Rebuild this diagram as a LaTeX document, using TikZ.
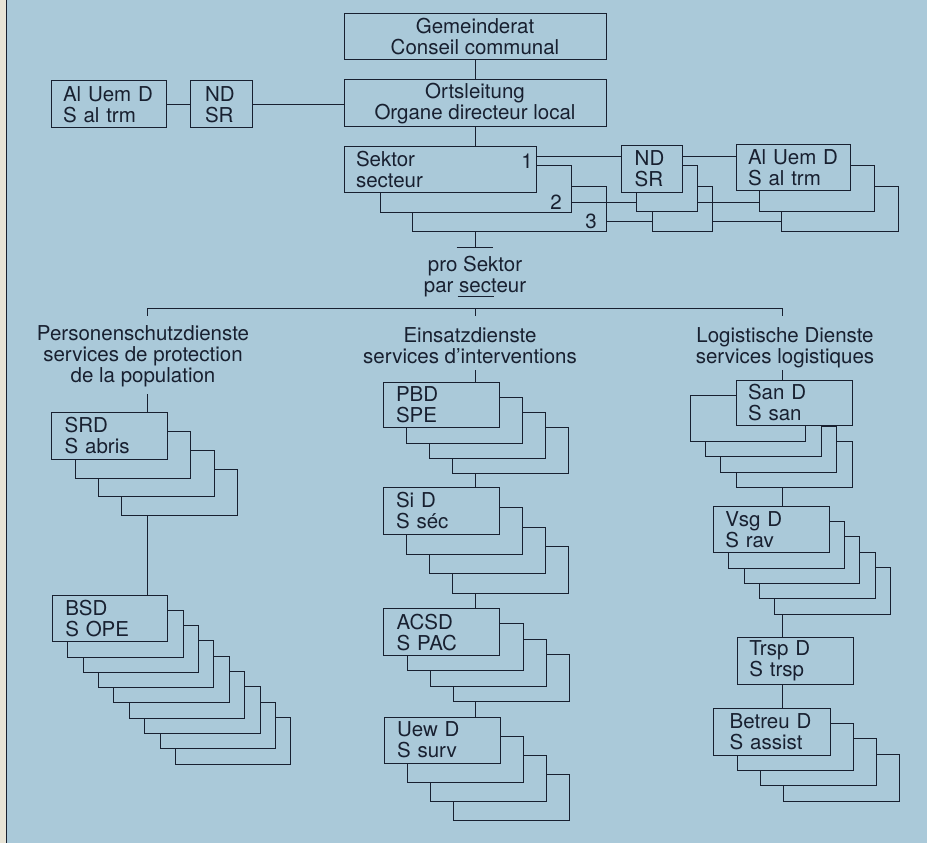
\documentclass[tikz,border=0pt]{standalone}
\usepackage{fontspec}
\setmainfont{TeX Gyre Heros}
\definecolor{bg}{RGB}{170,201,217}
\definecolor{ink}{RGB}{24,32,48}
\definecolor{strip}{RGB}{232,228,214}
\newcommand\tf{\fontsize{20.5}{21}\selectfont}
\newcommand\tbox[7]{%
  \pgfmathsetmacro\tbw{#4-2*#6}%
  \node[bx,txt,align=left,minimum width=#4pt,minimum height=#5pt,inner xsep=#6pt,text width=\tbw pt] (#1) at (#2,#3) {#7};}
\newcommand\ebox[5]{\node[bx,minimum width=#4pt,minimum height=#5pt] (#1) at (#2,#3) {};}
\newcommand\stk[8]{\foreach \k in {#8,...,1}{\ebox{#1-\k}{#2+\k*#6}{#3+\k*#7}{#4}{#5}}}
\begin{document}
\begin{tikzpicture}[x=1pt,y=-1pt,
  bx/.style={draw=ink,fill=bg,line width=1pt,anchor=north west,inner sep=0pt,outer sep=0pt},
  txt/.style={text=ink,font=\tf},
  con/.style={draw=ink,line width=1pt}]
\fill[bg] (0,0) rectangle (927,843);
\useasboundingbox (0,0) rectangle (927,843);
\fill[strip] (0,0) rectangle (6,843);
\draw[ink,line width=1.2pt] (6.8,0) -- (6.8,843);

% top
\node[bx,txt,align=center,minimum width=262pt,minimum height=46.7pt] (gr) at (344,13.3) {Gemeinderat\\Conseil communal};
\node[bx,txt,align=center,minimum width=262pt,minimum height=46.7pt] (or) at (344,80) {Ortsleitung\\Organe directeur local};
\draw[con] (gr.south) -- (or.north);
\tbox{alL}{51}{81}{115.7}{46.7}{12}{Al Uem D\\S al trm}
\tbox{ndL}{190}{81}{62.7}{46.7}{15}{ND\\SR}
\draw[con] (alL.east) -- (ndL.west);
\draw[con] (ndL.east) -- (ndL.east -| or.west);

% sector
\ebox{sk3}{412.7}{186}{193.3}{45.7}
\ebox{sk2}{380}{165.7}{191.7}{47}
\tbox{sk}{344}{146}{192.7}{46.7}{12}{Sektor\\secteur}
\draw[con] (or.south) -- (or.south |- sk.north);
\ebox{ndR3}{652.3}{186}{60.4}{45.7}
\ebox{ndR2}{636}{165.7}{61.3}{46}
\tbox{ndR}{621.7}{145.5}{61}{46.7}{13}{ND\\SR}
\ebox{alR3}{781.7}{186}{116.6}{45}
\ebox{alR2}{759.3}{165.7}{114.7}{45.3}
\tbox{alR}{736}{144.5}{114.7}{46.4}{12}{Al Uem D\\S al trm}
\coordinate (l1) at (0,156.7);
\coordinate (l2) at (0,202.3);
\coordinate (l3) at (0,221.7);
\draw[con] (sk.east |- l1) -- (ndR.west |- l1);
\draw[con] (ndR.east |- l1) -- (alR.west |- l1);
\draw[con] (sk2.east |- l2) -- (ndR2.west |- l2);
\draw[con] (ndR2.east |- l2) -- (alR2.west |- l2);
\draw[con] (sk3.east |- l3) -- (ndR3.west |- l3);
\draw[con] (ndR3.east |- l3) -- (alR3.west |- l3);
\node[txt] (n1) at (527,161.7) {1};
\node[txt] (n2) at (556,202.3) {2};
\node[txt] (n3) at (591,221.7) {3};
\coordinate (tb) at (475,247.3);
\draw[con] (sk3.south -| tb) -- (tb);
\draw[con] ([xshift=-18.3pt]tb) -- ([xshift=18.3pt]tb);
\node[txt,align=center] (ps) at (475,277) {pro Sektor\\par secteur};
\coordinate (ub) at (475.5,296.7);
\draw[con] ([xshift=-18pt]ub) -- ([xshift=18pt]ub);

% distribution
\coordinate (dl) at (147.7,308);
\coordinate (dc) at (475,308);
\coordinate (dr) at (782,308);
\draw[con] (dl) -- (dr);
\draw[con] (dl) -- ++(0,8);
\draw[con] (dc) -- ++(0,8);
\draw[con] (dr) -- ++(0,8);
\node[txt,align=center] (hl) at (143,356) {Personenschutzdienste\\services de protection\\de la population};
\node[txt,align=center] (hc) at (470,345.4) {Einsatzdienste\\services d’interventions};
\node[txt,align=center] (hr) at (785,347.4) {Logistische Dienste\\services logistiques};

% left column
\stk{srd}{51.7}{412.7}{115.6}{46.6}{23.4}{18.8}{3}
\tbox{srd}{51.7}{412.7}{115.6}{46.6}{13}{SRD\\S abris}
\stk{bsd}{52.3}{595}{115.4}{46.7}{15.4}{15.3}{8}
\tbox{bsd}{52.3}{595}{115.4}{46.7}{13}{BSD\\S OPE}
\coordinate (vl) at (147.7,394);
\draw[con] (vl) -- (vl |- srd.north);
\draw[con] (srd-3.south -| vl) -- (vl |- bsd.north);

% centre column
\stk{pbd}{383}{382}{116}{45.7}{23.3}{15.3}{3}
\tbox{pbd}{383}{382}{116}{45.7}{13}{PBD\\SPE}
\stk{sid}{383}{487.7}{116}{46.6}{23.3}{19.7}{3}
\tbox{sid}{383}{487.7}{116}{46.6}{13}{Si D\\S séc}
\stk{acsd}{383.7}{608.7}{116}{47}{23.3}{15.2}{3}
\tbox{acsd}{383.7}{608.7}{116}{47}{13}{ACSD\\S PAC}
\stk{uew}{384}{717}{116}{46.3}{23.3}{19}{3}
\tbox{uew}{384}{717}{116}{46.3}{13}{Uew D\\S surv}
\coordinate (vc) at (475,370);
\draw[con] (vc) -- (vc |- pbd.north);
\draw[con] (pbd-3.south -| vc) -- (vc |- sid.north);
\draw[con] (sid-3.south -| vc) -- (vc |- acsd.north);
\draw[con] (acsd-3.south -| vc) -- (vc |- uew.north);

% right column
\ebox{sand-d}{736.7}{441.7}{115.6}{45.6}
\ebox{sand-c}{720.3}{426.3}{116.4}{45.7}
\ebox{sand-b}{705.3}{411}{115.7}{45.7}
\ebox{sand-a}{690}{395.7}{115}{46}
\tbox{sand}{736}{380}{116}{45.7}{12}{San D\\S san}
\stk{vsg}{713.3}{506}{115.7}{46.7}{15.4}{15.4}{4}
\tbox{vsg}{713.3}{506}{115.7}{46.7}{12}{Vsg D\\S rav}
\tbox{trsp}{737.3}{637.7}{115.7}{46.6}{12}{Trsp D\\S trsp}
\stk{bet}{713.7}{708.3}{116.3}{47}{23.3}{15.3}{3}
\tbox{bet}{713.7}{708.3}{116.3}{47}{16}{Betreu D\\S assist}
\coordinate (vr) at (782,370);
\draw[con] (vr) -- (vr |- sand.north);
\draw[con] (sand-d.south -| vr) -- (vr |- vsg.north);
\draw[con] (vsg-4.south -| vr) -- (vr |- trsp.north);
\draw[con] (trsp.south -| vr) -- (vr |- bet.north);
\end{tikzpicture}
\end{document}
